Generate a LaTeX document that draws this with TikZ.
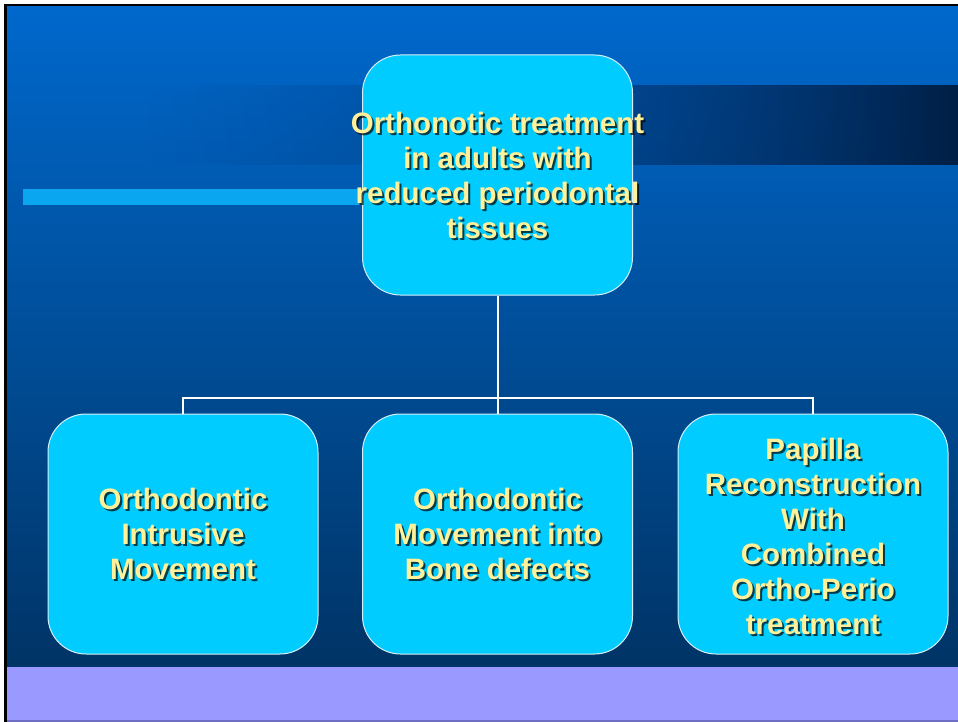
\documentclass[tikz,border=0pt]{standalone}
\usepackage{fontspec}
\setmainfont{Liberation Sans}
\usetikzlibrary{fadings}
\definecolor{bgtop}{HTML}{0068CC}
\definecolor{bgbot}{HTML}{003466}
\definecolor{bandA}{HTML}{004A98}
\definecolor{bandB}{HTML}{003E84}
\definecolor{bandC}{HTML}{002A5E}
\definecolor{bandD}{HTML}{020E20}
\definecolor{boxfill}{HTML}{00CCFF}
\definecolor{boxline}{HTML}{D8EEF6}
\definecolor{txtyellow}{HTML}{FFF09A}
\definecolor{lavender}{HTML}{9999FF}
\definecolor{lavline}{HTML}{6E6EC4}
\definecolor{checkfill}{HTML}{0AA6F0}
\pgfdeclarehorizontalshading{darkband}{100bp}{color(0bp)=(bandA); color(28bp)=(bandB); color(60bp)=(bandC); color(90bp)=(bandD); color(100bp)=(bandD)}
\tikzfading[name=bandfade, left color=transparent!100, middle color=transparent!5, right color=transparent!0]
\tikzset{
  x=1pt, y=-1pt,
  boxnode/.style={draw=boxline, line width=1pt, fill=boxfill, rounded corners=38pt,
    minimum width=270pt, minimum height=240pt, inner sep=0pt},
  txtnode/.style={text=txtyellow, align=center, inner sep=0pt,
    font=\bfseries\fontsize{29.5}{35}\selectfont},
  shadownode/.style={txtnode, text=black, text opacity=0.7},
  conn/.style={draw=white, line width=2pt}
}
\begin{document}
\begin{tikzpicture}
\useasboundingbox (0,0) rectangle (958,722);
\fill[white] (0,0) rectangle (958,722);
\fill[black] (4,4) rectangle (958,722);
\shade[top color=bgtop, bottom color=bgbot] (7,7) rectangle (958,667);
\shade[shading=darkband, path fading=bandfade, fit fading=true] (150,86) rectangle (985,165);
\fill[lavender] (7,667) rectangle (958,720);
\fill[lavline] (7,720) rectangle (958,722);
\fill[checkfill] (23,189) rectangle (363,205);

\node[boxnode] (top) at (497.5,175) {};
\node[boxnode] (left) at (183,534) {};
\node[boxnode] (mid) at (497.5,534) {};
\node[boxnode] (right) at (813,534) {};

\coordinate (bus) at (497.5,398);
\draw[conn] (top.south) -- (bus);
\draw[conn] (bus) -| (left.north);
\draw[conn] (bus) -- (mid.north);
\draw[conn] (bus) -| (right.north);

\node[shadownode] at ([shift={(2,2)}]top.center) {Orthonotic treatment\\in adults with\\reduced periodontal\\tissues};
\node[txtnode] (toptext) at (top.center) {Orthonotic treatment\\in adults with\\reduced periodontal\\tissues};

\node[shadownode] at ([shift={(2,2)}]left.center) {Orthodontic\\Intrusive\\Movement};
\node[txtnode] (lefttext) at (left.center) {Orthodontic\\Intrusive\\Movement};

\node[shadownode] at ([shift={(2,2)}]mid.center) {Orthodontic\\Movement into\\Bone defects};
\node[txtnode] (midtext) at (mid.center) {Orthodontic\\Movement into\\Bone defects};

\node[shadownode] at ([shift={(2,4)}]right.center) {Papilla\\Reconstruction\\With\\Combined\\Ortho-Perio\\treatment};
\node[txtnode] (righttext) at ([shift={(0,2)}]right.center) {Papilla\\Reconstruction\\With\\Combined\\Ortho-Perio\\treatment};
\end{tikzpicture}
\end{document}
